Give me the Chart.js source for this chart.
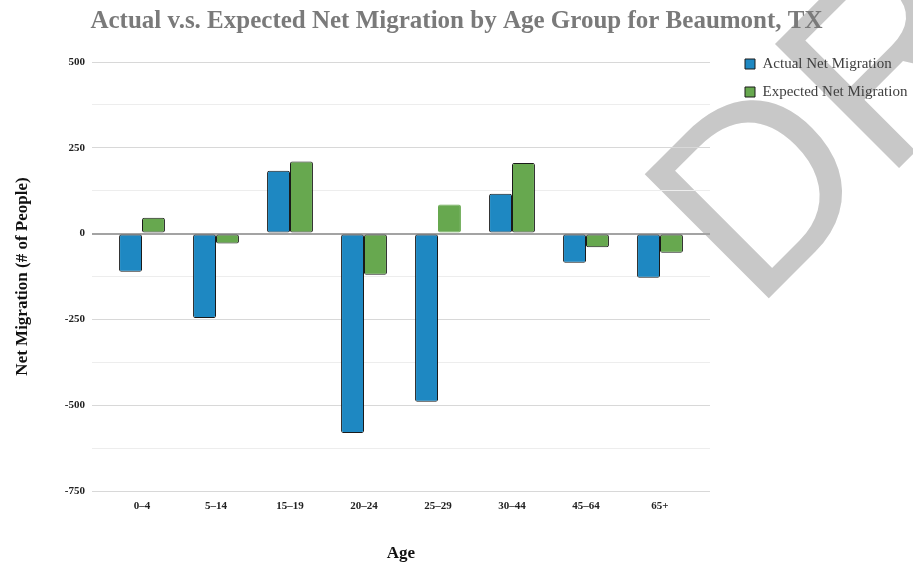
<!DOCTYPE html>
<html>
<head>
<meta charset="utf-8">
<script src="https://cdn.jsdelivr.net/npm/chart.js@4.4.1/dist/chart.umd.min.js"></script>
<style>
  html, body { margin: 0; padding: 0; background: #fff; overflow: hidden; }
  #wrap { width: 913px; height: 566px; position: relative; }
</style>
</head>
<body>
<div id="wrap"><canvas id="migration-chart"></canvas></div>
<script>
var ageGroups = ["0–4", "5–14", "15–19", "20–24", "25–29", "30–44", "45–64", "65+"];
var actualNet = [-111, -246, 183, -581, -490, 116, -85, -129];
var expectedNet = [46, -29, 210, -120, 85, 206, -40, -56];
var labeledTicks = [500, 250, 0, -250, -500, -750];

var serif = "'Liberation Serif', 'DejaVu Serif', serif";
var blue = "#1e88c2";
var green = "#67a84f";

// green bar for 25-29 has no dark outline in the original
var expectedBorders = expectedNet.map(function(v, i) {
  return i === 4 ? green : "#1a1a1a";
});

function gridColor(ctx) {
  var v = ctx.tick ? ctx.tick.value : null;
  if (v === 0) return "#a3a3a3";
  if (labeledTicks.indexOf(v) !== -1) return "#d8d8d8";
  return "#ededed";
}
function gridWidth(ctx) {
  return ctx.tick && ctx.tick.value === 0 ? 2 : 1;
}

var watermark = {
  id: "watermark",
  beforeDraw: function(chart) {
    var c = chart.ctx;
    c.save();
    c.fillStyle = "#fff";
    c.fillRect(0, 0, chart.width, chart.height);
    c.translate(754, 313);
    c.rotate(-Math.PI / 4);
    c.font = "255px 'Liberation Sans', Arial, sans-serif";
    c.fillStyle = "#c8c8c8";
    c.textBaseline = "alphabetic";
    c.fillText("DRAFT", 0, 0);
    c.restore();
  }
};

document.addEventListener("DOMContentLoaded", function() {
  var ctx = document.getElementById("migration-chart").getContext("2d");

  var chartData = {
    labels: ageGroups,
    datasets: [
      {
        label: "Actual Net Migration",
        data: actualNet,
        backgroundColor: blue,
        borderColor: "#1a1a1a",
        borderWidth: 1,
        borderRadius: 2,
        borderSkipped: false
      },
      {
        label: "Expected Net Migration",
        data: expectedNet,
        backgroundColor: green,
        borderColor: expectedBorders,
        borderWidth: 1,
        borderRadius: 2,
        borderSkipped: false
      }
    ]
  };

  var yTicks = {
    min: -750,
    max: 500,
    stepSize: 125
  };

  new Chart(ctx, {
    type: "bar",
    data: chartData,
    plugins: [watermark],
    options: {
      responsive: true,
      maintainAspectRatio: false,
      animation: false,
      categoryPercentage: 0.62,
      barPercentage: 1,
      layout: { padding: 0 },
      plugins: {
        title: {
          display: true,
          text: "Actual v.s. Expected Net Migration by Age Group for Beaumont, TX",
          color: "#7a7a7a",
          font: { family: serif, size: 25, weight: "bold" },
          padding: { top: 7, bottom: 25 }
        },
        legend: {
          position: "right",
          align: "start",
          maxWidth: 181,
          title: {
            display: true,
            text: " ",
            font: { size: 10 },
            padding: { top: 31.5, bottom: 0 }
          },
          labels: {
            boxWidth: 10,
            boxHeight: 10,
            padding: 13,
            color: "#404040",
            font: { family: serif, size: 15 }
          }
        },
        tooltip: { enabled: false }
      },
      scales: {
        x: {
          afterFit: function(scale) { scale.height = 75; },
          grid: { display: false, drawTicks: false },
          border: { display: false },
          ticks: {
            padding: 9,
            maxRotation: 0,
            color: "#222",
            font: { family: serif, size: 11, weight: "bold" }
          },
          title: {
            display: true,
            text: "Age",
            color: "#111",
            font: { family: serif, size: 17, weight: "bold" },
            padding: { top: 31, bottom: 2 }
          }
        },
        y: {
          min: yTicks.min,
          max: yTicks.max,
          afterFit: function(scale) { scale.width = 105; },
          grid: {
            color: gridColor,
            lineWidth: gridWidth,
            tickLength: 13
          },
          border: { display: false },
          ticks: {
            stepSize: yTicks.stepSize,
            padding: 7,
            color: "#222",
            font: { family: serif, size: 11, weight: "bold" },
            callback: function(v) {
              return labeledTicks.indexOf(v) !== -1 ? String(v) : "";
            }
          },
          title: {
            display: true,
            text: "Net Migration (# of People)",
            color: "#111",
            font: { family: serif, size: 17, weight: "bold" },
            padding: { top: 12, bottom: 0 }
          }
        },
        y2: {
          position: "right",
          min: yTicks.min,
          max: yTicks.max,
          afterFit: function(scale) { scale.width = 35; },
          grid: {
            color: gridColor,
            lineWidth: gridWidth,
            drawOnChartArea: false,
            tickLength: 13
          },
          border: { display: false },
          ticks: { stepSize: yTicks.stepSize, display: false }
        }
      }
    }
  });
});
</script>
</body>
</html>
